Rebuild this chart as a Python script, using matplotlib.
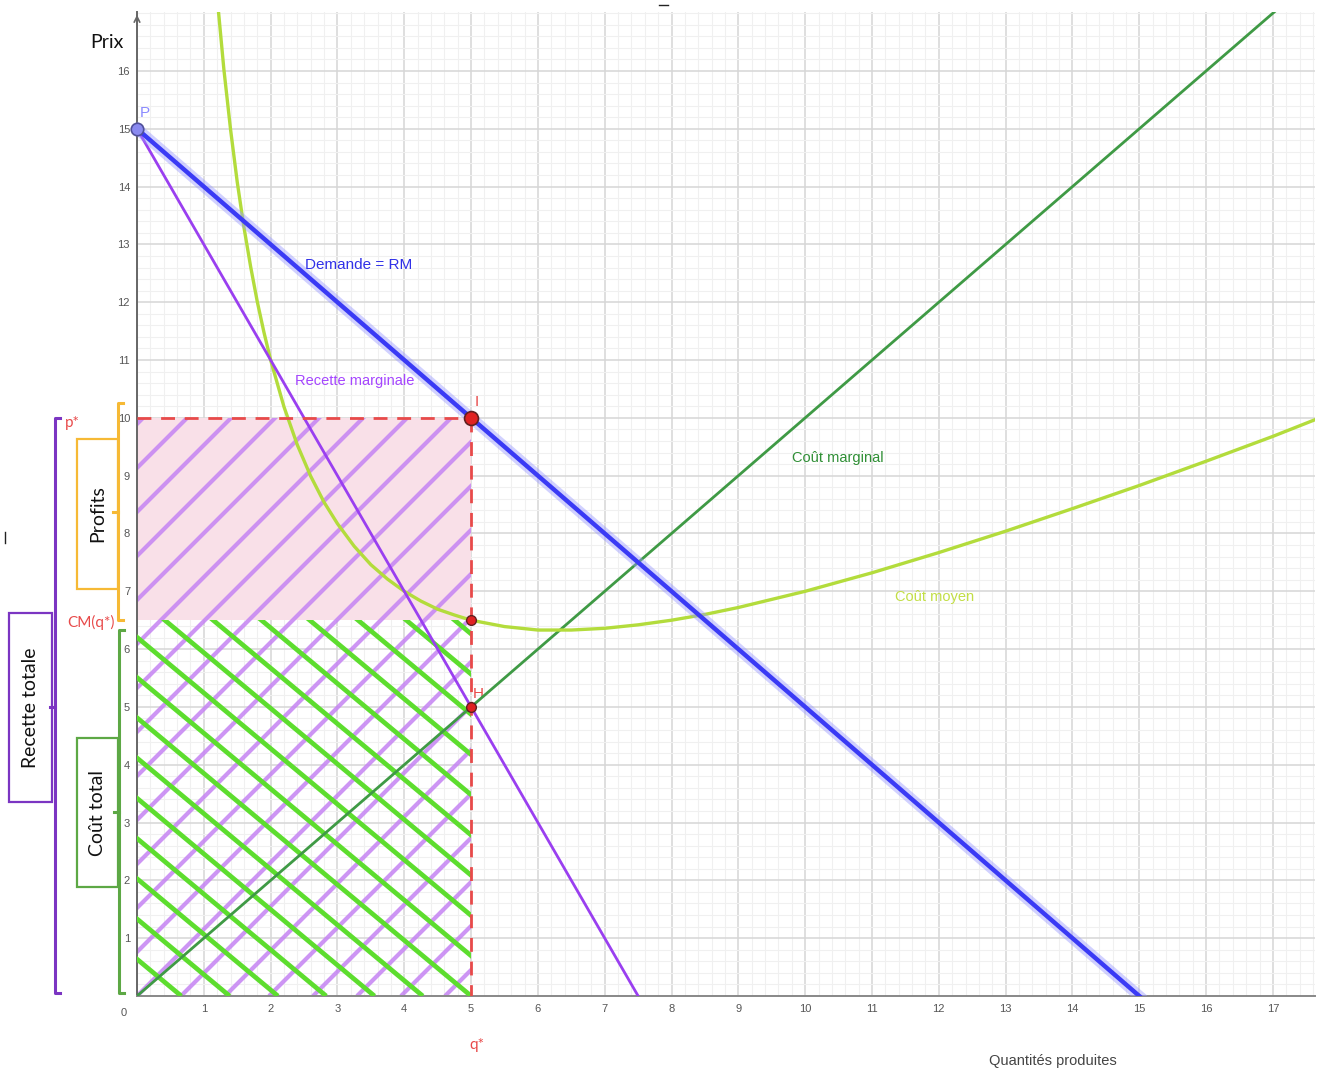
import numpy as np
import matplotlib
matplotlib.use("Agg")
import matplotlib.pyplot as plt
from matplotlib.patches import Rectangle
from matplotlib.lines import Line2D
import matplotlib.patheffects as pe

# data
demand_q = [0, 15]
demand_p = [15, 0]
mr_q = [0, 7.5]
mr_p = [15, 0]
mc_q = [0, 17.7]
mc_p = [0, 17.7]
ac_q = [1.2, 1.3, 1.4, 1.5, 1.6, 1.7, 1.8, 1.9, 2.0, 2.2, 2.4, 2.6, 2.8, 3.0, 3.25, 3.5,
        3.75, 4.0, 4.25, 4.5, 4.75, 5.0, 5.5, 6.0, 6.5, 7.0, 7.5, 8.0, 8.5, 9.0, 9.5,
        10, 11, 12, 13, 14, 15, 16, 17, 17.7]
ac_p = [17.27, 16.03, 14.99, 14.08, 13.30, 12.62, 12.01, 11.48, 11.0, 10.19, 9.53,
        8.99, 8.54, 8.17, 7.78, 7.46, 7.21, 7.0, 6.83, 6.69, 6.59, 6.5, 6.39, 6.33,
        6.33, 6.36, 6.42, 6.5, 6.60, 6.72, 6.86, 7.0, 7.32, 7.67, 8.04, 8.43, 8.83,
        9.25, 9.68, 10.0]
q_star = 5
p_star = 10
cm_star = 6.5
h_val = 5
p_point = (0, 15)

xticks = list(range(1, 18))
yticks = list(range(1, 17))

W, H = 1320, 1071
XMAX, YMAX = 17.63, 17.02


def fx(px):
    return px / W


def fy(py):
    return 1 - py / H


def main():
    fig = plt.figure(figsize=(W / 100, H / 100), dpi=100)
    ax = fig.add_axes([fx(137), fy(996), fx(1315) - fx(137), fy(12) - fy(996)])
    ax.set_xlim(0, XMAX)
    ax.set_ylim(0, YMAX)
    ax_w = (1315 - 137)
    ax_h = (996 - 12)
    sx = ax_w / XMAX   # px per unit
    sy = ax_h / YMAX

    # grid
    ax.set_xticks(xticks)
    ax.set_yticks(yticks)
    ax.set_xticks(np.arange(0, XMAX, 0.2), minor=True)
    ax.set_yticks(np.arange(0, YMAX, 0.2), minor=True)
    ax.grid(which='major', color='#d6d6d6', linewidth=1.1)
    ax.grid(which='minor', color='#f0f0f0', linewidth=0.8)
    ax.set_axisbelow(True)
    ax.tick_params(which='both', length=0)
    ax.tick_params(axis='x', labelsize=8, labelcolor='#555555', pad=6)
    ax.tick_params(axis='y', labelsize=8, labelcolor='#555555', pad=5)
    for lab in ax.get_xticklabels() + ax.get_yticklabels():
        lab.set_family('Liberation Sans')
    for s in ['top', 'right']:
        ax.spines[s].set_visible(False)
    ax.spines['left'].set_color('#666666')
    ax.spines['bottom'].set_color('#888888')
    ax.spines['left'].set_linewidth(1.4)
    ax.spines['bottom'].set_linewidth(1.4)
    ax.annotate('', xy=(0, 1.0), xytext=(0, 0.985), xycoords='axes fraction',
                arrowprops=dict(arrowstyle='->', color='#666666', lw=1.2))
    ax.text(-0.011, -0.012, '0', transform=ax.transAxes, fontsize=8, color='#555555',
            ha='center', va='top', family='Liberation Sans')

    # shaded areas
    pink = Rectangle((0, cm_star), q_star, p_star - cm_star, facecolor='#f9e0e8',
                     edgecolor='none', zorder=1)
    ax.add_patch(pink)
    clip_all = Rectangle((0, 0), q_star, p_star, fill=False, linewidth=0)
    clip_low = Rectangle((0, 0), q_star, cm_star, fill=False, linewidth=0)
    ax.add_patch(clip_all)
    ax.add_patch(clip_low)

    step_p = 44.0 / sx
    slope_p = sx / sy
    for k in range(-25, 25):
        x0 = k * step_p
        l, = ax.plot([x0, x0 + 14], [0, 14 * slope_p], color='#c583f3',
                     linewidth=3.0, alpha=0.85, zorder=2, solid_capstyle='butt')
        l.set_clip_path(clip_all)
    step_g = 48.3 / sx
    slope_g = 0.833 * sx / sy
    for k in range(-25, 25):
        x0 = q_star + k * step_g
        l, = ax.plot([x0, x0 - 14], [0, 14 * slope_g], color='#5ddd2e',
                     linewidth=3.4, zorder=3, solid_capstyle='butt')
        l.set_clip_path(clip_low)

    # curves
    ax.plot(mc_q, mc_p, color='#3f9a45', linewidth=2.0, zorder=4)
    ax.plot(ac_q, ac_p, color='#b3dc3c', linewidth=2.4, zorder=4)
    ax.plot(mr_q, mr_p, color='#9a3ff0', linewidth=2.0, zorder=5)
    ax.plot(demand_q, demand_p, color='#3a3af5', linewidth=3.2, zorder=6,
            path_effects=[pe.Stroke(linewidth=8, foreground='#9a9aff', alpha=0.45), pe.Normal()])

    # dashed red guides
    ax.plot([0, q_star], [p_star, p_star], color='#e84a4a', linewidth=2, dashes=(5, 3.5), zorder=7)
    ax.plot([q_star, q_star], [p_star, 0], color='#e84a4a', linewidth=2, dashes=(5, 3.5), zorder=7)

    # points
    ax.plot(*p_point, 'o', markersize=9, markerfacecolor='#8a8af0', markeredgecolor='#50509a',
            markeredgewidth=1.2, zorder=8, clip_on=False)
    ax.plot(q_star, p_star, 'o', markersize=10, markerfacecolor='#e02222', markeredgecolor='#602020',
            markeredgewidth=1.2, zorder=8)
    ax.plot(q_star, cm_star, 'o', markersize=7, markerfacecolor='#e02222', markeredgecolor='#602020',
            markeredgewidth=1.0, zorder=8)
    ax.plot(q_star, h_val, 'o', markersize=7, markerfacecolor='#e02222', markeredgecolor='#602020',
            markeredgewidth=1.0, zorder=8)

    ax.text(0.04, 15.15, 'P', color='#8a8aff', fontsize=11, ha='left', va='bottom', family='Liberation Sans')
    ax.text(5.05, 10.15, 'I', color='#e84a4a', fontsize=11, ha='left', va='bottom', family='Liberation Sans')
    ax.text(5.03, 5.1, 'H', color='#e84a4a', fontsize=11, ha='left', va='bottom', family='Liberation Sans')

    # curve labels
    ax.text(3.32, 12.65, 'Demande = RM', color='#3030e8', fontsize=11, ha='center', va='center',
            family='Liberation Sans', zorder=9)
    ax.text(3.26, 10.64, 'Recette marginale', color='#a546ff', fontsize=10.5, ha='center', va='center',
            family='Liberation Sans', zorder=9)
    ax.text(10.49, 9.31, 'Coût marginal', color='#2f8f35', fontsize=10.5, ha='center', va='center',
            family='Liberation Sans', zorder=9)
    ax.text(11.93, 6.90, 'Coût moyen', color='#c2de45', fontsize=10.5, ha='center', va='center',
            family='Liberation Sans', zorder=9)

    # outer texts
    fig.text(fx(107), fy(42), 'Prix', fontsize=14, color='#111111', ha='center', va='center', family='Lato')
    fig.text(fx(1053), fy(1061), 'Quantités produites', fontsize=10.5, color='#444444',
             ha='center', va='center', family='Liberation Sans')
    fig.text(fx(477), fy(1045), 'q*', fontsize=11, color='#e84a4a', ha='center', va='center', family='Lato')
    fig.text(fx(72), fy(423), 'p*', fontsize=11, color='#e84a4a', ha='center', va='center', family='Lato')
    fig.text(fx(91), fy(622), 'CM(q*)', fontsize=11, color='#e84a4a', ha='center', va='center', family='Lato')

    # brackets and boxes
    def bracket(x, top, bot, mid, color):
        hook = 5
        xs = [x + hook, x, x, x + hook]
        ys = [top, top, bot, bot]
        fig.add_artist(Line2D([fx(v) for v in xs], [fy(v) for v in ys], color=color, linewidth=2.2))
        fig.add_artist(Line2D([fx(x - 5), fx(x)], [fy(mid), fy(mid)], color=color, linewidth=2.2))

    def box(x0, x1, y0, y1, color, label):
        fig.add_artist(Rectangle((fx(x0), fy(y1)), fx(x1) - fx(x0), fy(y0) - fy(y1),
                                 transform=fig.transFigure, fill=False, edgecolor=color, linewidth=1.6))
        fig.text(fx((x0 + x1) / 2), fy((y0 + y1) / 2), label, rotation=90, fontsize=14,
                 color='#111111', ha='center', va='center', family='Lato')

    bracket(55, 418, 993, 707, '#7b35c2')
    box(9, 52, 613, 802, '#7b35c2', 'Recette totale')
    bracket(118, 403, 620, 512, '#f6b935')
    box(77, 118, 439, 589, '#f6b935', 'Profits')
    bracket(119, 630, 993, 812, '#5da845')
    box(77, 118, 738, 887, '#5da845', 'Coût total')

    # small stray marks from the original screenshot
    fig.add_artist(Line2D([fx(5), fx(5)], [fy(532), fy(543)], color='#222222', linewidth=1))
    fig.add_artist(Line2D([fx(659), fx(668)], [fy(5), fy(5)], color='#222222', linewidth=1))

    fig.savefig('out.png', dpi=100)


if __name__ == "__main__":
    main()
